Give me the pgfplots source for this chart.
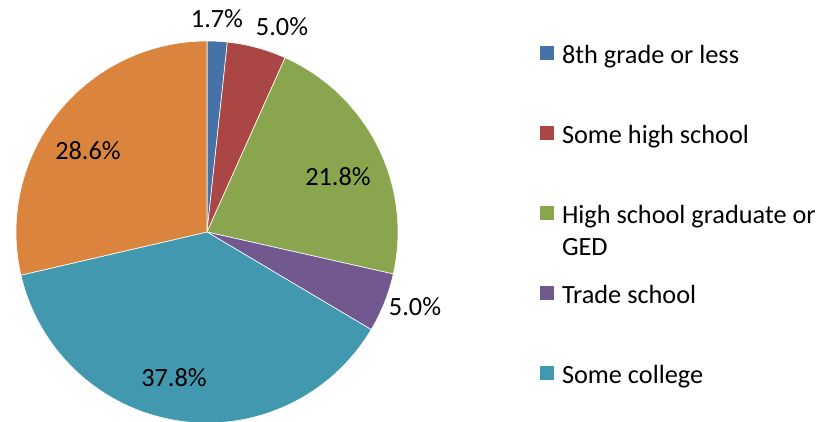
\documentclass[border=0pt]{standalone}
\usepackage{pgfplots}
\pgfplotsset{compat=1.18}
\usepackage{pgfplotstable}
\usepackage{fontspec}
\setmainfont{Carlito}
\definecolor{c0}{HTML}{4572A7}
\definecolor{c1}{HTML}{AA4643}
\definecolor{c2}{HTML}{89A54E}
\definecolor{c3}{HTML}{71588F}
\definecolor{c4}{HTML}{4198AF}
\definecolor{c5}{HTML}{DB843D}
\pgfplotstableread{
share
1.7
5.0
21.8
5.0
37.8
28.6
}\datatable
\begin{document}
\fontsize{26.3bp}{33bp}\selectfont
\begin{tikzpicture}
\begin{axis}[
  width=825bp, height=422bp, scale only axis,
  xmin=0, xmax=825, ymin=0, ymax=422,
  hide axis, clip=true,
  legend style={at={(axis cs:540,376.5)}, anchor=north west, draw=none, fill=none,
    inner sep=0pt, outer sep=0pt, row sep=56bp, column sep=8bp,
    font=\fontsize{26.3bp}{33bp}\selectfont,
    nodes={inner sep=0pt, text height=18bp, text depth=6bp}},
  legend cell align=left,
  legend image code/.code={\fill[#1,draw=none] (0bp,-3bp) rectangle (14bp,11bp);},
]
\path (axis cs:0,0) rectangle (axis cs:825,422);
\def\total{0}
\pgfplotsforeachungrouped \i in {0,...,5}{%
  \pgfplotstablegetelem{\i}{share}\of\datatable
  \pgfmathsetmacro\total{\total+\pgfplotsretval}%
}
\def\cum{0}
\pgfplotsforeachungrouped \i in {0,...,5}{%
  \pgfplotstablegetelem{\i}{share}\of\datatable
  \let\v\pgfplotsretval
  \pgfmathsetmacro\a{90-(\cum/\total)*360}%
  \pgfmathsetmacro\cum{\cum+\v}%
  \pgfmathsetmacro\b{90-(\cum/\total)*360}%
  \edef\temp{\noexpand\addplot[fill=c\i, draw=white, line width=0.6bp, domain=\b:\a, samples=90, variable=\noexpand\t]
    ({207+191*cos(\noexpand\t)},{190+191*sin(\noexpand\t)}) -- (axis cs:207,190) -- cycle;}%
  \temp
}
\legend{8th grade or less, Some high school, {\smash{\begin{tabular}[t]{@{}l@{}}High school graduate or\\[-1bp]GED\end{tabular}}}, Trade school, Some college}
\node[anchor=base, inner sep=0pt] at (axis cs:217,394) {1.7\%};
\node[anchor=base, inner sep=0pt] at (axis cs:282,386) {5.0\%};
\node[anchor=base, inner sep=0pt] at (axis cs:338,236) {21.8\%};
\node[anchor=base, inner sep=0pt] at (axis cs:415,106) {5.0\%};
\node[anchor=base, inner sep=0pt] at (axis cs:174,35) {37.8\%};
\node[anchor=base, inner sep=0pt] at (axis cs:88,262) {28.6\%};
\end{axis}
\end{tikzpicture}
\end{document}
